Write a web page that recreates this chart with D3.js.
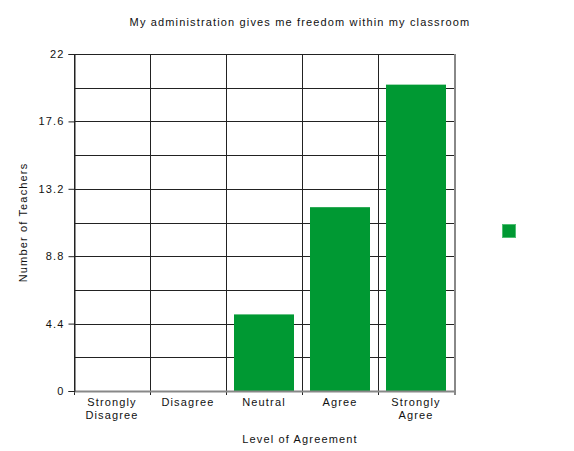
<!DOCTYPE html>
<html>
<head>
<meta charset="utf-8">
<script src="https://cdn.jsdelivr.net/npm/d3@7"></script>
<style>
  html, body { margin: 0; padding: 0; background: #fff; }
  svg text { font-family: "Liberation Sans", Arial, sans-serif; fill: #111; letter-spacing: 1.15px; }
</style>
</head>
<body>
<svg id="chart" width="574" height="451"></svg>
<script>
// Survey responses: number of teachers per level of agreement
const categories = ["Strongly Disagree", "Disagree", "Neutral", "Agree", "Strongly Agree"];
const categoryLines = [["Strongly", "Disagree"], ["Disagree"], ["Neutral"], ["Agree"], ["Strongly", "Agree"]];
const teacherCounts = [0, 0, 5, 12, 20];
const yTicks = [0, 4.4, 8.8, 13.2, 17.6, 22];
const yGrid = [2.2, 4.4, 6.6, 8.8, 11, 13.2, 15.4, 17.6, 19.8, 22];

const title = "My administration gives me freedom within my classroom";
const xTitle = "Level of Agreement";
const yTitle = "Number of Teachers";
const barColor = "#009933";

const svg = d3.select("#chart");
const plot = { left: 74, right: 454, top: 54, bottom: 391 };

const x = d3.scaleBand().domain(categories).range([plot.left, plot.right]).paddingInner(0).paddingOuter(0);
const y = d3.scaleLinear().domain([0, 22]).range([plot.bottom, plot.top]);

// Horizontal grid lines
svg.append("g").selectAll("line").data(yGrid).join("line")
  .attr("x1", plot.left).attr("x2", plot.right)
  .attr("y1", d => Math.round(y(d)) + 0.5).attr("y2", d => Math.round(y(d)) + 0.5)
  .attr("stroke", "#222").attr("stroke-width", 1);

// Vertical category separators
const bounds = categories.map(c => x(c));
svg.append("g").selectAll("line").data(bounds).join("line")
  .attr("x1", d => Math.round(d) + 0.5).attr("x2", d => Math.round(d) + 0.5)
  .attr("y1", plot.top).attr("y2", plot.bottom + 4)
  .attr("stroke", "#222").attr("stroke-width", 1);

// Bars
const barW = x.bandwidth() * 60 / 76;
svg.append("g").selectAll("rect").data(teacherCounts).join("rect")
  .attr("x", (d, i) => x(categories[i]) + (x.bandwidth() - barW) / 2)
  .attr("width", barW)
  .attr("y", d => y(d))
  .attr("height", d => y(0) - y(d))
  .attr("fill", barColor);

// Right and bottom frame (grey, slightly heavier)
svg.append("line")
  .attr("x1", plot.right + 1).attr("x2", plot.right + 1)
  .attr("y1", plot.top).attr("y2", plot.bottom + 4)
  .attr("stroke", "#888").attr("stroke-width", 2);
svg.append("line")
  .attr("x1", plot.left).attr("x2", plot.right + 2)
  .attr("y1", plot.bottom + 0.5).attr("y2", plot.bottom + 0.5)
  .attr("stroke", "#888").attr("stroke-width", 2);

// Y axis
const yAxis = d3.axisLeft(y).tickValues(yTicks).tickSize(6).tickPadding(4)
  .tickFormat(d => d3.format("~g")(d));
const ya = svg.append("g").attr("transform", `translate(${plot.left + 0.5},0)`).call(yAxis);
ya.select(".domain").attr("stroke", "#222");
ya.selectAll(".tick line").attr("stroke", "#222");
ya.selectAll("text").attr("font-size", 11).attr("fill", "#111")
  .attr("font-family", "Liberation Sans, Arial, sans-serif");

// X category labels
const xl = svg.append("g").selectAll("text").data(categories).join("text")
  .attr("x", d => x(d) + x.bandwidth() / 2)
  .attr("y", plot.bottom + 15)
  .attr("text-anchor", "middle")
  .attr("font-size", 11);
xl.each(function (d, i) {
  const t = d3.select(this);
  categoryLines[i].forEach((line, j) => {
    t.append("tspan").attr("x", x(d) + x.bandwidth() / 2).attr("dy", j === 0 ? 0 : 13).text(line);
  });
});

// Titles
svg.append("text").attr("x", 300).attr("y", 26).attr("text-anchor", "middle")
  .attr("font-size", 11).text(title);
svg.append("text").attr("x", 300).attr("y", 443).attr("text-anchor", "middle")
  .attr("font-size", 11).text(xTitle);
svg.append("text").attr("transform", `translate(27,${(plot.top + plot.bottom) / 2}) rotate(-90)`)
  .attr("text-anchor", "middle").attr("font-size", 11).text(yTitle);

// Legend swatch
svg.append("rect").attr("x", 502.5).attr("y", 224.5).attr("width", 13).attr("height", 13)
  .attr("fill", barColor).attr("stroke", "#4fbf73").attr("stroke-width", 1);
</script>
</body>
</html>
